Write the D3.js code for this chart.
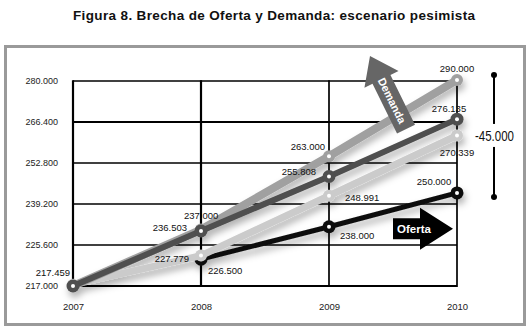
<!DOCTYPE html>
<html>
<head>
<meta charset="utf-8">
<script src="https://cdn.jsdelivr.net/npm/d3@7"></script>
<style>
  html, body { margin: 0; padding: 0; background: #fff; }
  svg { display: block; font-family: "Liberation Sans", Arial, sans-serif; }
</style>
</head>
<body>
<svg id="chart" width="531" height="332"></svg>
<script>
// ---- data ----
const years = [2007, 2008, 2009, 2010];
const demandaAlta  = [217000, 237000, 263000, 290000];
const demandaMedia = [217000, 236503, 255808, 276135];
const demandaBaja  = [217459, 227779, 248991, 270339];
const oferta       = [null,   226500, 238000, 250000];
const yTickLabels  = ["217.000", "225.600", "239.200", "252.800", "266.400", "280.000"];
const titleText    = "Figura 8. Brecha de Oferta y Demanda: escenario pesimista";
const brechaLabel  = "-45.000";
const arrowLabels  = ["Demanda", "Oferta"];

// ---- styling (positions of labels relative to points) ----
const series = [
  { key: "oferta", values: oferta, color: "#0d0d0d", width: 5, r: 6.5,
    offsets: [null, [7, 15, "start"], [11, 12, "start"], [-23, -8, "middle"]] },
  { key: "baja", values: demandaBaja, color: "#cbcbcb", width: 7, r: 6,
    offsets: [[-3, -9, "end"], [-12, 6, "end"], [16, 5, "start"], [0, 21, "middle"]] },
  { key: "alta", values: demandaAlta, color: "#a0a0a0", width: 8, r: 6,
    offsets: [null, [-17, -11, "start"], [-4, -6, "end"], [0, -8, "middle"]] },
  { key: "media", values: demandaMedia, color: "#4f4f4f", width: 6, r: 6.5,
    offsets: [null, [-14, 0, "end"], [-13, -1.5, "end"], [-8, -7, "middle"]] }
];

const fmt = d3.formatLocale({ decimal: ",", thousands: ".", grouping: [3], currency: ["", ""] }).format(",");

const svg = d3.select("#chart");

// defs: shadow
const defs = svg.append("defs");
const f = defs.append("filter").attr("id", "shadow")
  .attr("x", "-20%").attr("y", "-20%").attr("width", "140%").attr("height", "160%");
f.append("feDropShadow").attr("dx", 2).attr("dy", 5).attr("stdDeviation", 3.5)
  .attr("flood-color", "#000").attr("flood-opacity", 0.3);

// title
svg.append("text")
  .attr("x", 274).attr("y", 20)
  .attr("text-anchor", "middle")
  .attr("font-size", 13.5).attr("font-weight", "bold").attr("fill", "#111")
  .attr("textLength", 402).attr("lengthAdjust", "spacing")
  .text(titleText);

// frame
svg.append("rect")
  .attr("x", 5.5).attr("y", 46.5).attr("width", 519).attr("height", 278)
  .attr("fill", "#fff").attr("stroke", "#9a9a9a").attr("stroke-width", 3);

// scales
const plotTop = 80, plotBottom = 286;
const x = d3.scalePoint().domain(years).range([73, 457]);
const y = d3.scaleLinear().domain([217000, 290000]).range([plotBottom, plotTop]);
const yGrid = d3.scalePoint().domain(yTickLabels).range([plotBottom, plotTop + 1]);

// grid
const grid = svg.append("g");
grid.selectAll("line.h").data(yTickLabels).join("line")
  .attr("x1", x(years[0])).attr("x2", x(years[years.length - 1]))
  .attr("y1", d => yGrid(d)).attr("y2", d => yGrid(d))
  .attr("stroke", "#000")
  .attr("stroke-width", (d, i) => i === 0 ? 2 : (i === 4 ? 2 : 1.5));
grid.selectAll("line.v").data(years).join("line")
  .attr("x1", d => x(d)).attr("x2", d => x(d))
  .attr("y1", yGrid(yTickLabels[yTickLabels.length - 1]) - 0.75).attr("y2", plotBottom + 1)
  .attr("stroke", "#000")
  .attr("stroke-width", (d, i) => i < 2 ? 2.2 : 1.7);

// axes
const yAxis = svg.append("g").attr("transform", `translate(${x(years[0])},0)`)
  .call(d3.axisLeft(yGrid).tickSize(0).tickPadding(15));
yAxis.select(".domain").remove();
yAxis.selectAll("text").attr("font-size", 9).attr("fill", "#222")
  .attr("font-family", "'Liberation Sans', Arial, sans-serif");

const xAxis = svg.append("g").attr("transform", `translate(0,${plotBottom})`)
  .call(d3.axisBottom(x).tickSize(0).tickPadding(17));
xAxis.select(".domain").remove();
xAxis.selectAll("text").attr("font-size", 9.5).attr("fill", "#222")
  .attr("font-family", "'Liberation Sans', Arial, sans-serif");

// lines
const line = d3.line()
  .defined(d => d.v != null)
  .x(d => x(d.year)).y(d => y(d.v));

const linesG = svg.append("g").attr("filter", "url(#shadow)");
series.forEach(s => {
  const pts = years.map((yr, i) => ({ year: yr, v: s.values[i] }));
  const g = linesG.append("g");
  g.append("path").datum(pts)
    .attr("d", line)
    .attr("fill", "none")
    .attr("stroke", s.color)
    .attr("stroke-width", s.width)
    .attr("stroke-linecap", "round");
  const valid = pts.filter(d => d.v != null);
  g.selectAll("circle.o").data(valid).join("circle")
    .attr("cx", d => x(d.year)).attr("cy", d => y(d.v))
    .attr("r", s.r).attr("fill", s.color);
  g.selectAll("circle.i").data(valid).join("circle")
    .attr("cx", d => x(d.year)).attr("cy", d => y(d.v))
    .attr("r", 2).attr("fill", "#fff");
});

// data labels
const labelsG = svg.append("g");
series.forEach(s => {
  years.forEach((yr, i) => {
    const v = s.values[i];
    const o = s.offsets[i];
    if (v == null || !o) return;
    labelsG.append("text")
      .attr("x", x(yr) + o[0]).attr("y", y(v) + o[1])
      .attr("text-anchor", o[2])
      .attr("font-size", 9.5).attr("fill", "#111")
      .text(fmt(v));
  });
});

// Demanda arrow
const tail = [x(2010) - 51, y(276135) + 10];
const tip = [x(2010) - 87, y(290000) - 24];
const dx = tip[0] - tail[0], dy = tip[1] - tail[1];
const L = Math.hypot(dx, dy);
const ang = Math.atan2(dy, dx) * 180 / Math.PI;
const dG = svg.append("g").attr("transform", `translate(${tail[0]},${tail[1]}) rotate(${ang})`);
dG.append("path")
  .attr("d", d3.line()([[0, -10], [L - 26, -10], [L - 26, -19], [L, 0], [L - 26, 19], [L - 26, 10], [0, 10]]) + "Z")
  .attr("fill", "#666");
dG.append("text")
  .attr("transform", `translate(${(L - 26) / 2 + 4},0) rotate(180)`)
  .attr("text-anchor", "middle").attr("dy", "0.36em")
  .attr("font-size", 11).attr("font-weight", "bold").attr("fill", "#fff")
  .text(arrowLabels[0]);

// Oferta arrow
const oTipX = x(2010) - 4, oY = y(238000) + 2;
const oG = svg.append("g").attr("transform", `translate(${oTipX},${oY})`);
oG.append("path")
  .attr("d", d3.line()([[-60, -10.5], [-33, -10.5], [-33, -21], [0, 0], [-33, 21], [-33, 10.5], [-60, 10.5]]) + "Z")
  .attr("fill", "#000");
oG.append("text")
  .attr("x", -56).attr("y", 0).attr("dy", "0.36em")
  .attr("font-size", 11.5).attr("font-weight", "bold").attr("fill", "#fff")
  .text(arrowLabels[1]);

// brecha bracket
const bx = x(2010) + 37;
const bTop = y(290000) - 5, bBot = y(250000) + 4;
const bG = svg.append("g");
bG.append("line").attr("x1", bx).attr("x2", bx).attr("y1", bTop).attr("y2", bBot)
  .attr("stroke", "#000").attr("stroke-width", 2);
bG.selectAll("circle").data([bTop, bBot]).join("circle")
  .attr("cx", bx).attr("cy", d => d).attr("r", 3).attr("fill", "#000");
const midY = (bTop + bBot) / 2;
bG.append("rect").attr("x", bx - 20).attr("y", midY - 12).attr("width", 41).attr("height", 23).attr("fill", "#fff");
bG.append("text")
  .attr("x", bx + 0.5).attr("y", midY).attr("dy", "0.36em")
  .attr("text-anchor", "middle")
  .attr("font-size", 14).attr("fill", "#111")
  .attr("textLength", 39).attr("lengthAdjust", "spacingAndGlyphs")
  .text(brechaLabel);
</script>
</body>
</html>
